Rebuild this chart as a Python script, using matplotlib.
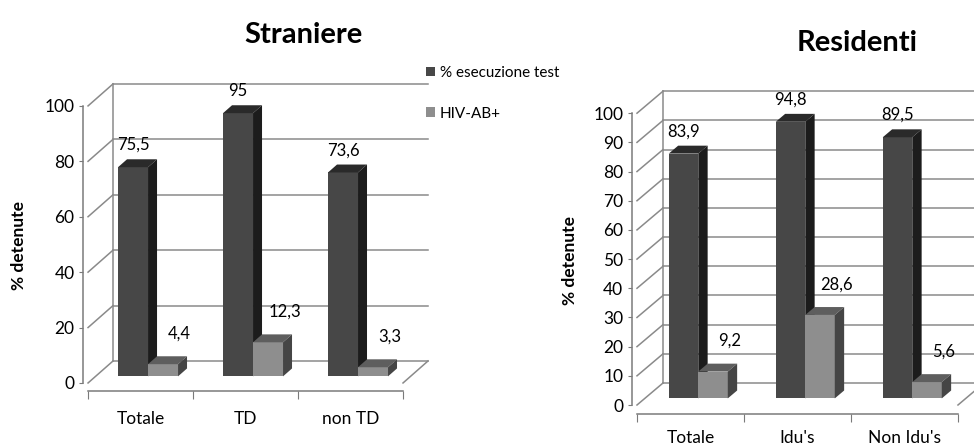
import matplotlib
matplotlib.use("Agg")
import matplotlib.pyplot as plt
from matplotlib.patches import Polygon, Patch

plt.rcParams['font.family'] = ['Lato', 'DejaVu Sans']

# data
series_names = ["% esecuzione test", "HIV-AB+"]

str_cats = ["Totale", "TD", "non TD"]
str_test = [75.5, 95, 73.6]
str_hiv = [4.4, 12.3, 3.3]
str_test_lbl = ["75,5", "95", "73,6"]
str_hiv_lbl = ["4,4", "12,3", "3,3"]
str_yticks = [0, 20, 40, 60, 80, 100]

res_cats = ["Totale", "Idu's", "Non Idu's"]
res_test = [83.9, 94.8, 89.5]
res_hiv = [9.2, 28.6, 5.6]
res_test_lbl = ["83,9", "94,8", "89,5"]
res_hiv_lbl = ["9,2", "28,6", "5,6"]
res_yticks = [0, 10, 20, 30, 40, 50, 60, 70, 80, 90, 100]

# colours (front, side, top)
DARK = ("#474747", "#1c1c1c", "#2a2a2a")
LIGHT = ("#8e8e8e", "#454545", "#5e5e5e")
GRID = "#8a8a8a"


def draw_bar(ax, x, v, w, base, ddx, ddy, cols, z):
    ax.bar(x, v, width=w, bottom=base, align='edge', color=cols[0],
           linewidth=0, zorder=z, clip_on=False)
    top = base + v
    ax.add_patch(Polygon([(x, top), (x + w, top), (x + w + ddx, top + ddy),
                          (x + ddx, top + ddy)], closed=True,
                         facecolor=cols[2], linewidth=0, zorder=z, clip_on=False))
    ax.add_patch(Polygon([(x + w, base), (x + w + ddx, base + ddy),
                          (x + w + ddx, top + ddy), (x + w, top)], closed=True,
                         facecolor=cols[1], linewidth=0, zorder=z, clip_on=False))


def draw_panel(ax, cats, test, hiv, test_lbl, hiv_lbl, yticks, DX, DY, w,
               xpad, f0=0.3, fd=0.36):
    n = len(cats)
    ymax = yticks[-1]
    # walls
    for t in yticks:
        ax.plot([DX, n + DX], [t + DY, t + DY], color=GRID, lw=1.1, zorder=1)
        ax.plot([0, DX], [t, t + DY], color=GRID, lw=1.1, zorder=1)
    ax.plot([DX, DX], [DY, ymax + DY], color=GRID, lw=1.1, zorder=1)
    ax.plot([n, n + DX], [0, DY], color=GRID, lw=1.1, zorder=1)

    sx, base = f0 * DX, f0 * DY
    ddx, ddy = fd * DX, fd * DY
    for i in range(n):
        xd = i + 0.5 - w + sx
        xl = i + 0.5 + sx
        draw_bar(ax, xd, test[i], w, base, ddx, ddy, DARK, 3 + 2 * i)
        draw_bar(ax, xl, hiv[i], w, base, ddx, ddy, LIGHT, 4 + 2 * i)
        ax.annotate(test_lbl[i], (xd + w / 2, base + test[i]),
                    xytext=(0, 16), textcoords='offset points',
                    ha='center', va='center', fontsize=12, zorder=20)
        ax.annotate(hiv_lbl[i], (xl + w / 2, base + hiv[i]),
                    xytext=(12, 22), textcoords='offset points',
                    ha='center', va='center', fontsize=12, zorder=20)

    for s in ['top', 'right']:
        ax.spines[s].set_visible(False)
    for s in ['left', 'bottom']:
        ax.spines[s].set_color("#7a7a7a")
        ax.spines[s].set_linewidth(1.1)
    ax.spines['left'].set_bounds(0, ymax)
    ax.spines['bottom'].set_bounds(0, n)
    ax.set_yticks(yticks)
    ax.set_yticklabels([str(t) for t in yticks], fontsize=12.5)
    ax.tick_params(axis='y', length=3, pad=3, color="#7a7a7a")
    ax.set_xticks(range(n + 1))
    ax.set_xticklabels([""] * (n + 1))
    ax.set_xticks([i + 0.5 for i in range(n)], minor=True)
    ax.set_xticklabels(cats, minor=True, fontsize=12.5)
    ax.tick_params(axis='x', which='major', length=6, color="#7a7a7a")
    ax.tick_params(axis='x', which='minor', length=0, pad=xpad)
    ax.set_ylabel("% detenute", fontsize=12.5, fontweight='bold')


fig = plt.figure(figsize=(9.74, 4.45), dpi=100)

ax1 = fig.add_axes([0.085, 0.1207, 0.3665, 0.716])
ax1.set_xlim(-0.05, 3.35)
ax1.set_ylim(-3, 112)
draw_panel(ax1, str_cats, str_test, str_hiv, str_test_lbl, str_hiv_lbl,
           str_yticks, 25 / 105, 22 / 2.77, 30 / 105, 14)
ax1.yaxis.set_label_coords(-0.155, 0.459)

ax2 = fig.add_axes([0.6485, 0.0702, 0.3735, 0.741])
ax2.set_xlim(-0.05, 3.35)
ax2.set_ylim(-3, 110)
draw_panel(ax2, res_cats, res_test, res_hiv, res_test_lbl, res_hiv_lbl,
           res_yticks, 26 / 107, 22 / 2.92, 29.5 / 107, 12)
ax2.yaxis.set_label_coords(-0.148, 0.466)

fig.text(303 / 974, 1 - 35 / 445, "Straniere", ha='center', va='center',
         fontsize=21, fontweight='bold')
fig.text(857 / 974, 1 - 43 / 445, "Residenti", ha='center', va='center',
         fontsize=21, fontweight='bold')

handles = [Patch(facecolor=DARK[0]), Patch(facecolor=LIGHT[0])]
fig.legend(handles, series_names, loc='upper left',
           bbox_to_anchor=(426 / 974, 1 - 66 / 445), frameon=False,
           handlelength=0.6, handleheight=0.6, handletextpad=0.3,
           labelspacing=1.75, fontsize=11, borderaxespad=0, borderpad=0)

fig.savefig("out.png", dpi=100)
